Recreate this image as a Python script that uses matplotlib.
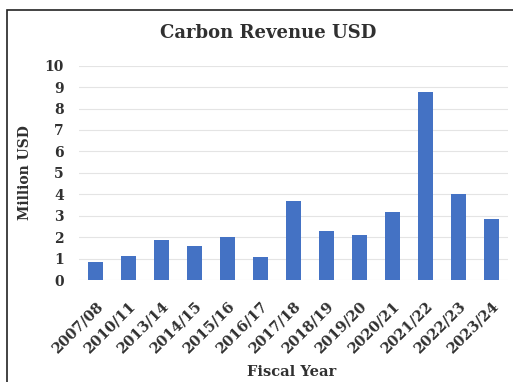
import matplotlib.pyplot as plt
import matplotlib.transforms as mtransforms
from matplotlib.patches import Rectangle

# Ingresos por carbono por año fiscal (millones de USD)
anios = ['2007/08', '2010/11', '2013/14', '2014/15', '2015/16', '2016/17', '2017/18',
         '2018/19', '2019/20', '2020/21', '2021/22', '2022/23', '2023/24']
ingresos = [0.85, 1.1, 1.85, 1.6, 2.0, 1.05, 3.7, 2.3, 2.1, 3.15, 8.75, 4.0, 2.85]

plt.rcParams['font.family'] = ['DejaVu Serif']
texto = '#303030'

fig = plt.figure(figsize=(5.13, 3.82), dpi=100)
W, H = 513, 382
ax = fig.add_axes([79 / W, 1 - 280 / H, (508 - 79) / W, (280 - 65.7) / H])

# Marco exterior del gráfico
fig.patches.append(Rectangle((7 / W, -0.1), 1.2, 1 - 10 / H + 0.1, transform=fig.transFigure,
                             fill=False, edgecolor='#222222', linewidth=1.2))

x = range(len(anios))
ax.bar(x, ingresos, width=0.45, color='#4472C4', zorder=3)

ax.set_ylim(0, 10)
ax.set_xlim(-0.5, len(anios) - 0.5)
ax.set_yticks(range(0, 11))
ax.set_xticks(list(x))
ax.set_xticklabels(anios, rotation=45, ha='right', va='top', rotation_mode='anchor',
                   fontsize=10.5, color=texto, fontweight='bold')
desplazar = mtransforms.ScaledTranslation(6 / 100, 0, fig.dpi_scale_trans)
for lbl in ax.get_xticklabels():
    lbl.set_transform(lbl.get_transform() + desplazar)
for lbl in ax.get_yticklabels():
    lbl.set_fontsize(10)
    lbl.set_color(texto)
    lbl.set_fontweight('bold')
ax.grid(axis='y', color='#e4e4e4', linewidth=0.8, zorder=0)
ax.tick_params(axis='y', length=0, pad=11)
ax.tick_params(axis='x', length=0, pad=14)
for s in ax.spines.values():
    s.set_visible(False)

fig.text(25 / W, 1 - 173 / H, 'Million USD', rotation=90, ha='center', va='center',
         fontsize=10, color=texto, fontweight='bold')
fig.text(292 / W, 1 - 372 / H, 'Fiscal Year', ha='center', va='center',
         fontsize=10.5, color=texto, fontweight='bold')
fig.text(268 / W, 1 - 33 / H, 'Carbon Revenue USD', ha='center', va='center',
         fontsize=13, color=texto, fontweight='bold')

plt.savefig('out.png', dpi=100)
